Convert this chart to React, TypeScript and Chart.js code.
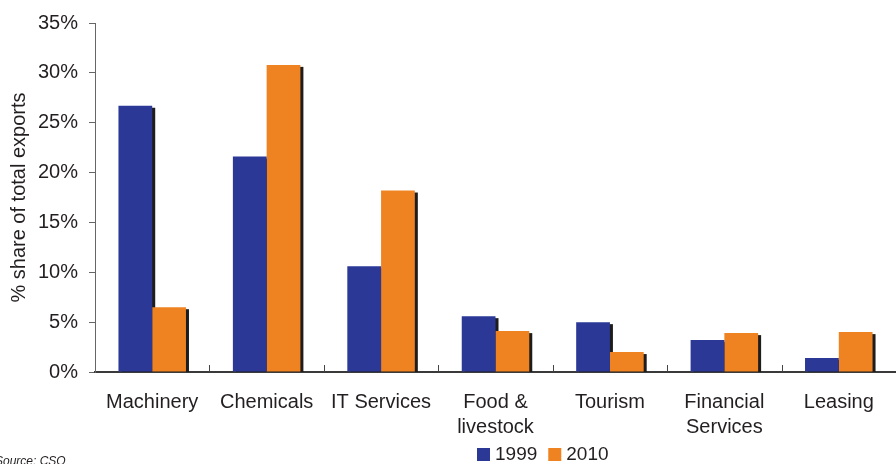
import React, { useEffect, useRef } from "react";
import { Chart, registerables } from "chart.js";

Chart.register(...registerables);

const categories: (string | string[])[] = [
  "Machinery",
  "Chemicals",
  "IT Services",
  ["Food &", "livestock"],
  "Tourism",
  ["Financial", "Services"],
  "Leasing",
];
const seriesNames = ["1999", "2010"];
const values1999 = [26.7, 21.6, 10.6, 5.6, 5.0, 3.2, 1.4];
const values2010 = [6.5, 30.8, 18.2, 4.1, 2.0, 3.9, 4.0];
const yTickValues = [0, 5, 10, 15, 20, 25, 30, 35];
const yTitle = "% share of total exports";
const sourceText = "Source: CSO";

const BLUE = "#2b3896";
const ORANGE = "#ef8322";
const TEXT = "#231f20";
const FONT = "'Liberation Sans', Arial, sans-serif";

const shadowPlugin = {
  id: "barShadow",
  beforeDatasetsDraw(chart: any) {
    const ctx = chart.ctx;
    const area = chart.chartArea;
    ctx.save();
    ctx.beginPath();
    ctx.rect(area.left, area.top - 5, area.right - area.left + 10, area.bottom - area.top + 5);
    ctx.clip();
    ctx.fillStyle = "#1e1c1c";
    chart.data.datasets.forEach((_d: any, i: number) => {
      chart.getDatasetMeta(i).data.forEach((bar: any) => {
        const p = bar.getProps(["x", "y", "base", "width"], true);
        ctx.fillRect(p.x - p.width / 2 + 3, p.y + 2, p.width, p.base - p.y);
      });
    });
    ctx.restore();
  },
};

const extrasPlugin = {
  id: "extras",
  afterDraw(chart: any) {
    const ctx = chart.ctx;
    const x = chart.scales.x;
    const area = chart.chartArea;
    // inward category separator ticks
    ctx.save();
    ctx.strokeStyle = "#444";
    ctx.lineWidth = 1;
    for (let i = 1; i < categories.length; i++) {
      const px = Math.round((x.getPixelForTick(i - 1) + x.getPixelForTick(i)) / 2) + 0.5;
      ctx.beginPath();
      ctx.moveTo(px, area.bottom);
      ctx.lineTo(px, area.bottom - 7);
      ctx.stroke();
    }
    // legend
    ctx.font = `19px ${FONT}`;
    ctx.textBaseline = "middle";
    ctx.textAlign = "left";
    let lx = 477;
    const ly = 448;
    chart.data.datasets.forEach((d: any) => {
      ctx.fillStyle = d.backgroundColor;
      ctx.fillRect(lx, ly, 13, 13);
      ctx.fillStyle = TEXT;
      ctx.fillText(d.label, lx + 18, ly + 7);
      lx += 18 + ctx.measureText(d.label).width + 11;
    });
    // source
    ctx.font = `italic 12px ${FONT}`;
    ctx.textBaseline = "top";
    ctx.fillStyle = TEXT;
    ctx.fillText(sourceText, -5, 456);
    ctx.restore();
  },
};

export default function App() {
  const ref = useRef<HTMLCanvasElement>(null);
  useEffect(() => {
    if (!ref.current) return;
    const chart = new Chart(ref.current, {
      type: "bar",
      data: {
        labels: categories,
        datasets: [
          { label: seriesNames[0], data: values1999, backgroundColor: BLUE },
          { label: seriesNames[1], data: values2010, backgroundColor: ORANGE },
        ],
      },
      options: {
        animation: false,
        responsive: false,
        maintainAspectRatio: false,
        layout: { padding: { top: 22, right: 0, bottom: 0, left: 0 } },
        plugins: { legend: { display: false }, tooltip: { enabled: false } },
        datasets: { bar: { categoryPercentage: 0.59, barPercentage: 1.0 } },
        scales: {
          x: {
            afterFit(scale: any) {
              scale.height = 92;
            },
            grid: { display: true, drawOnChartArea: false, drawTicks: false, color: "rgba(0,0,0,0)" },
            border: { display: true, color: "#3a3a3a", width: 2 },
            ticks: {
              color: TEXT,
              font: { family: FONT, size: 20, lineHeight: 1.25 },
              padding: 18,
              maxRotation: 0,
              autoSkip: false,
            },
          },
          y: {
            min: 0,
            max: 35,
            afterFit(scale: any) {
              scale.width = 95;
            },
            afterBuildTicks(scale: any) {
              scale.ticks = yTickValues.map((v) => ({ value: v }));
            },
            grid: { display: true, drawOnChartArea: false, drawTicks: true, tickLength: 6, color: "#666" },
            border: { display: true, color: "#666", width: 1 },
            ticks: {
              color: TEXT,
              font: { family: FONT, size: 20 },
              padding: 11,
              callback: (v: any) => `${v}%`,
            },
            title: {
              display: true,
              text: yTitle,
              color: TEXT,
              font: { family: FONT, size: 20 },
              padding: { top: 7, bottom: 0 },
            },
          },
        },
      },
      plugins: [shadowPlugin, extrasPlugin],
    });
    return () => chart.destroy();
  }, []);
  return (
    <div style={{ position: "fixed", left: 0, top: 0, width: 896, height: 464, background: "#fff" }}>
      <canvas ref={ref} width={896} height={464} style={{ width: 896, height: 464 }} />
    </div>
  );
}
